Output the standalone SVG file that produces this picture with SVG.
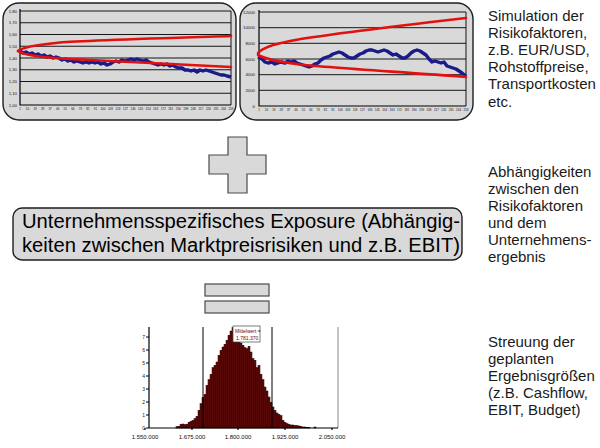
<svg xmlns="http://www.w3.org/2000/svg" width="600" height="448" viewBox="0 0 600 448">
<style>
.panel{fill:#d9d9d9;stroke:#1e1e1e;stroke-width:1.4}
.grid{stroke:#000;stroke-width:0.9;fill:none}
.axis{stroke:#000;stroke-width:1.2;fill:none}
.red{stroke:#e31010;stroke-width:2.6;fill:none;stroke-linecap:round}
.blue{stroke:#1a1a8a;stroke-width:3.4;fill:none;stroke-linejoin:round}
.yl{font-family:"Liberation Sans",Arial,sans-serif;font-size:4.3px;fill:#111;text-anchor:end}
.xl{font-family:"Liberation Sans",Arial,sans-serif;font-size:3px;fill:#111;text-anchor:middle}
.side{font-family:"Liberation Sans",Arial,sans-serif;font-size:15px;fill:#1a1a1a}
.big{font-family:"Liberation Sans",Arial,sans-serif;font-size:20px;fill:#000}
.sym{fill:#d9d9d9;stroke:#4a4a4a;stroke-width:1.2}
.bar{fill:#6e0a0a;stroke:#1a0000;stroke-width:0.5}
.hl{font-family:"Liberation Sans",Arial,sans-serif;font-size:6px;fill:#111;text-anchor:middle}
.hy{font-family:"Liberation Sans",Arial,sans-serif;font-size:5px;fill:#222;text-anchor:end}
.ml{font-family:"Liberation Sans",Arial,sans-serif;font-size:5px;fill:#7a0000}
</style>
<rect width="600" height="448" fill="#fff"/>
<g id="connectors"/>

<g id="chart-left">
<rect class="panel" x="3" y="3" width="233" height="117" rx="16"/>
<g class="grid">
<path d="M20,11H231M20,22.75H231M20,34.5H231M20,46.25H231M20,58H231M20,69.75H231M20,81.5H231M20,93.25H231M231,11V105"/>
</g>
<path class="axis" d="M20,9V105H231"/>
<g class="yl">
<text x="17" y="12.5">1,80</text><text x="17" y="24.2">1,70</text><text x="17" y="36">1,60</text><text x="17" y="47.7">1,50</text><text x="17" y="59.5">1,40</text><text x="17" y="71.2">1,30</text><text x="17" y="83">1,20</text><text x="17" y="94.7">1,10</text><text x="17" y="106.5">1,00</text>
</g>
<g class="xl">
<text x="20" y="109.5">1</text><text x="27.5" y="109.5">10</text><text x="35.1" y="109.5">19</text><text x="42.6" y="109.5">28</text><text x="50.1" y="109.5">37</text><text x="57.7" y="109.5">46</text><text x="65.2" y="109.5">55</text><text x="72.8" y="109.5">64</text><text x="80.3" y="109.5">73</text><text x="87.8" y="109.5">82</text><text x="95.4" y="109.5">91</text><text x="102.9" y="109.5">100</text><text x="110.4" y="109.5">109</text><text x="118" y="109.5">118</text><text x="125.5" y="109.5">127</text><text x="133" y="109.5">136</text><text x="140.6" y="109.5">145</text><text x="148.1" y="109.5">154</text><text x="155.6" y="109.5">163</text><text x="163.2" y="109.5">172</text><text x="170.7" y="109.5">181</text><text x="178.3" y="109.5">190</text><text x="185.8" y="109.5">199</text><text x="193.3" y="109.5">208</text><text x="200.9" y="109.5">217</text><text x="208.4" y="109.5">226</text><text x="215.9" y="109.5">235</text><text x="223.5" y="109.5">244</text><text x="231" y="109.5">253</text>
</g>
<path class="blue" d="M20,51 L23,53 L26,52 L29,54 L32,53 L35,55 L38,54 L41,56 L44,55 L47,57 L50,56 L53,58 L56,57 L59,58 L62,60 L65,59 L68,61 L71,60 L74,62 L77,61 L80,62 L83,63 L86,62 L89,63 L92,62 L95,63 L98,62 L101,64 L104,63 L107,65 L110,64 L113,62 L116,61 L119,62 L122,60 L125,61 L128,60 L131,59 L134,60 L137,59 L140,60 L143,61 L146,60 L149,62 L152,63 L155,64 L158,65 L161,64 L164,65 L167,64 L170,66 L173,65 L176,67 L179,68 L182,68 L185,70 L188,70 L191,71 L194,70 L197,72 L200,70 L203,71 L206,70 L209,71 L212,72 L215,73 L218,74 L221,75 L224,75 L227,76 L231,77"/>
<path class="red" d="M18,51 C22,47 40,44.5 60,42.5 S150,38.5 231,36"/>
<path class="red" d="M18,51 C22,54 40,57 60,58.5 S150,63.5 231,67"/>
</g>

<g id="chart-right">
<rect class="panel" x="240" y="3" width="233" height="117" rx="16"/>
<g class="grid">
<path d="M259,12H466M259,27.7H466M259,43.3H466M259,59H466M259,74.7H466M259,90.3H466M466,12V106"/>
</g>
<path class="axis" d="M259,10V106H466"/>
<g class="yl">
<text x="255" y="13.5">12000</text><text x="255" y="29.2">10000</text><text x="255" y="44.8">8000</text><text x="255" y="60.5">6000</text><text x="255" y="76.2">4000</text><text x="255" y="91.8">2000</text><text x="255" y="107.5">0</text>
</g>
<g class="xl">
<text x="259" y="110.5">1</text><text x="266.4" y="110.5">10</text><text x="273.8" y="110.5">19</text><text x="281.2" y="110.5">28</text><text x="288.6" y="110.5">37</text><text x="296" y="110.5">46</text><text x="303.4" y="110.5">55</text><text x="310.8" y="110.5">64</text><text x="318.1" y="110.5">73</text><text x="325.5" y="110.5">82</text><text x="332.9" y="110.5">91</text><text x="340.3" y="110.5">100</text><text x="347.7" y="110.5">109</text><text x="355.1" y="110.5">118</text><text x="362.5" y="110.5">127</text><text x="369.9" y="110.5">136</text><text x="377.3" y="110.5">145</text><text x="384.7" y="110.5">154</text><text x="392.1" y="110.5">163</text><text x="399.5" y="110.5">172</text><text x="406.9" y="110.5">181</text><text x="414.2" y="110.5">190</text><text x="421.6" y="110.5">199</text><text x="429" y="110.5">208</text><text x="436.4" y="110.5">217</text><text x="443.8" y="110.5">226</text><text x="451.2" y="110.5">235</text><text x="458.6" y="110.5">244</text><text x="466" y="110.5">253</text>
</g>
<path class="blue" d="M258,57 L262,59 L265,62 L268,63 L272,62 L275,64 L278,63 L281,62 L285,63 L288,61 L291,62 L294,61 L297,63 L300,64 L303,65 L306,66 L309,67 L312,66 L315,64 L318,63 L321,60 L324,58 L327,57 L330,56 L333,54 L336,53 L339,52 L342,53 L345,55 L348,57 L351,58 L354,58 L357,56 L360,54 L363,53 L366,51 L369,50 L372,50 L375,51 L378,52 L381,51 L384,50 L387,51 L390,53 L393,55 L396,54 L399,56 L402,58 L405,58 L408,56 L411,53 L414,51 L417,50 L420,51 L423,53 L426,55 L429,59 L432,62 L435,61 L438,62 L441,63 L444,62 L447,66 L450,67 L453,68 L456,69 L459,71 L462,73 L466,76"/>
<path class="red" d="M258,53 C262,48 275,44 290,41 S380,28 466,18"/>
<path class="red" d="M258,55 C265,59 280,62 300,64.5 S400,72 466,77"/>
</g>

<g id="text-sim" class="side">
<text x="488" y="21">Simulation der</text>
<text x="488" y="38">Risikofaktoren,</text>
<text x="488" y="55">z.B. EUR/USD,</text>
<text x="488" y="72">Rohstoffpreise,</text>
<text x="488" y="89">Transportkosten</text>
<text x="488" y="107">etc.</text>
</g>

<g id="plus">
<path class="sym" d="M228,137H247V155H266V174H247V193H228V174H209V155H228Z"/>
</g>

<g id="text-dep" class="side">
<text x="488" y="177">Abhängigkeiten</text>
<text x="488" y="194">zwischen den</text>
<text x="488" y="211">Risikofaktoren</text>
<text x="488" y="228">und dem</text>
<text x="488" y="245">Unternehmens-</text>
<text x="488" y="262">ergebnis</text>
</g>

<g id="exposure-box">
<rect class="panel" x="13" y="208" width="449" height="52" rx="9"/>
<text class="big" x="22" y="228" textLength="438" lengthAdjust="spacingAndGlyphs">Unternehmensspezifisches Exposure (Abhängig-</text>
<text class="big" x="22" y="252" textLength="438" lengthAdjust="spacingAndGlyphs">keiten zwischen Marktpreisrisiken und z.B. EBIT)</text>
</g>

<g id="equals">
<rect class="sym" x="205" y="284" width="64" height="12"/>
<rect class="sym" x="205" y="301" width="64" height="12"/>
</g>

<g id="histogram">
<line x1="338" y1="327" x2="338" y2="428" stroke="#888" stroke-width="1"/>
<g class="bar">
<rect x="176" y="426.7" width="2" height="1.3"/><rect x="178" y="426.3" width="2" height="1.7"/><rect x="180" y="424.3" width="2" height="3.7"/><rect x="182" y="424" width="2" height="4"/><rect x="184" y="424.7" width="2" height="3.3"/><rect x="186" y="424.3" width="2" height="3.7"/><rect x="188" y="422.3" width="2" height="5.7"/><rect x="190" y="421.3" width="2" height="6.7"/><rect x="192" y="420.3" width="2" height="7.7"/><rect x="194" y="418.7" width="2" height="9.3"/><rect x="196" y="416.3" width="2" height="11.7"/><rect x="198" y="410.3" width="2" height="17.7"/><rect x="200" y="403.7" width="2" height="24.3"/><rect x="202" y="397.7" width="2" height="30.3"/><rect x="204" y="394.3" width="2" height="33.7"/><rect x="206" y="385.3" width="2" height="42.7"/><rect x="208" y="379.7" width="2" height="48.3"/><rect x="210" y="374.3" width="2" height="53.7"/><rect x="212" y="367.7" width="2" height="60.3"/><rect x="214" y="365.3" width="2" height="62.7"/><rect x="216" y="362" width="2" height="66"/><rect x="218" y="355.3" width="2" height="72.7"/><rect x="220" y="350.3" width="2" height="77.7"/><rect x="222" y="347" width="2" height="81"/><rect x="224" y="344.3" width="2" height="83.7"/><rect x="226" y="340.3" width="2" height="87.7"/><rect x="228" y="335.3" width="2" height="92.7"/><rect x="230" y="331" width="2" height="97"/><rect x="232" y="327.7" width="2" height="100.3"/><rect x="234" y="333.7" width="2" height="94.3"/><rect x="236" y="339.7" width="2" height="88.3"/><rect x="238" y="336.3" width="2" height="91.7"/><rect x="240" y="343" width="2" height="85"/><rect x="242" y="345.3" width="2" height="82.7"/><rect x="244" y="347.7" width="2" height="80.3"/><rect x="246" y="348.7" width="2" height="79.3"/><rect x="248" y="346.3" width="2" height="81.7"/><rect x="250" y="352" width="2" height="76"/><rect x="252" y="358.7" width="2" height="69.3"/><rect x="254" y="360.3" width="2" height="67.7"/><rect x="256" y="367.7" width="2" height="60.3"/><rect x="258" y="365.3" width="2" height="62.7"/><rect x="260" y="374.3" width="2" height="53.7"/><rect x="262" y="379.7" width="2" height="48.3"/><rect x="264" y="387" width="2" height="41"/><rect x="266" y="391" width="2" height="37"/><rect x="268" y="397" width="2" height="31"/><rect x="270" y="402.3" width="2" height="25.7"/><rect x="272" y="407" width="2" height="21"/><rect x="274" y="410.3" width="2" height="17.7"/><rect x="276" y="413" width="2" height="15"/><rect x="278" y="414.3" width="2" height="13.7"/><rect x="280" y="415.7" width="2" height="12.3"/><rect x="282" y="420.3" width="2" height="7.7"/><rect x="284" y="422.3" width="2" height="5.7"/><rect x="286" y="423.7" width="2" height="4.3"/><rect x="288" y="424.3" width="2" height="3.7"/><rect x="290" y="425" width="2" height="3"/><rect x="292" y="425" width="2" height="3"/><rect x="294" y="425.7" width="2" height="2.3"/><rect x="296" y="425.7" width="2" height="2.3"/><rect x="298" y="426" width="2" height="2"/><rect x="300" y="426.3" width="2" height="1.7"/><rect x="302" y="427" width="2" height="1"/><rect x="304" y="427" width="2" height="1"/><rect x="306" y="427.3" width="2" height="0.7"/><rect x="308" y="427.3" width="2" height="0.7"/><rect x="314" y="427" width="2" height="1"/>
</g>
<line x1="203" y1="327" x2="203" y2="428" stroke="#000" stroke-width="1"/>
<line x1="272" y1="327" x2="272" y2="428" stroke="#000" stroke-width="1"/>
<path class="axis" d="M149,327V428H338M146,337H149M146,350H149M146,363H149M146,376H149M146,389H149M146,402H149M146,415H149M146,428H149M145,428V430M192,428V430M238,428V430M285,428V430M332,428V430" stroke-width="0.9"/>
<g class="hy">
<text x="145" y="338.5">7</text><text x="145" y="351.5">6</text><text x="145" y="364.5">5</text><text x="145" y="377.5">4</text><text x="145" y="390.5">3</text><text x="145" y="403.5">2</text><text x="145" y="416.5">1</text><text x="145" y="429.5">0</text>
</g>
<g class="hl">
<text x="145" y="439">1.550.000</text><text x="192" y="439">1.675.000</text><text x="238" y="439">1.800.000</text><text x="285" y="439">1.925.000</text><text x="332" y="439">2.050.000</text>
</g>
<rect x="233" y="326" width="27" height="16" fill="#fff" stroke="#444" stroke-width="0.7"/>
<text class="ml" x="235" y="333">Mittelwert =</text>
<text class="ml" x="236" y="340">1.781.370</text>
</g>

<g id="text-spread" class="side">
<text x="488" y="347">Streuung der</text>
<text x="488" y="364">geplanten</text>
<text x="488" y="381">Ergebnisgrößen</text>
<text x="488" y="398">(z.B. Cashflow,</text>
<text x="488" y="415">EBIT, Budget)</text>
</g>
</svg>
